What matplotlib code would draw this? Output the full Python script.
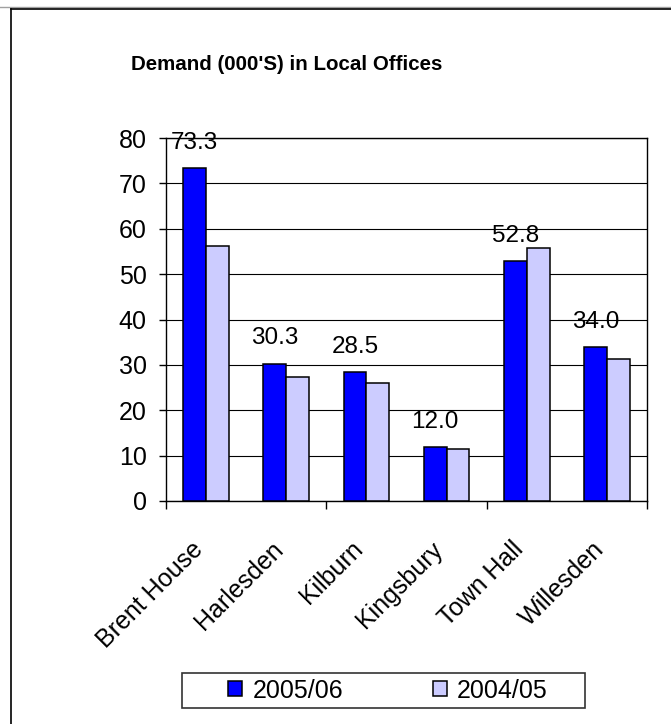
import matplotlib
matplotlib.use("Agg")
import matplotlib.pyplot as plt
import matplotlib.transforms as mtransforms
from matplotlib.patches import Rectangle
from matplotlib.lines import Line2D
import numpy as np

plt.rcParams["font.family"] = ["Liberation Sans", "DejaVu Sans"]

# Data
offices = ["Brent House", "Harlesden", "Kilburn", "Kingsbury", "Town Hall", "Willesden"]
demand_2005_06 = [73.3, 30.3, 28.5, 12.0, 52.8, 34.0]
demand_2004_05 = [56.2, 27.4, 26.1, 11.5, 55.8, 31.4]
series_labels = ["2005/06", "2004/05"]
y_ticks = [0, 10, 20, 30, 40, 50, 60, 70, 80]
title = "Demand (000'S) in Local Offices"

W, H = 671, 724
fig = plt.figure(figsize=(W / 100, H / 100), dpi=100)


def fx(px):
    return px / W


def fy(py):
    return 1 - py / H


ax = fig.add_axes([fx(166), fy(501), fx(647) - fx(166), fy(138) - fy(501)])

x = np.arange(len(offices))
bw = 1 / 1.75 / 2
b1 = ax.bar(x - bw / 2, demand_2005_06, width=bw, color="#0000FF",
            edgecolor="black", linewidth=1.1, zorder=3, label=series_labels[0])
b2 = ax.bar(x + bw / 2, demand_2004_05, width=bw, color="#CCCCFF",
            edgecolor="black", linewidth=1.1, zorder=3, label=series_labels[1])

ax.set_xlim(-0.5, len(offices) - 0.5)
ax.set_ylim(y_ticks[0], y_ticks[-1])
ax.set_yticks(y_ticks)
ax.yaxis.grid(True, color="black", linewidth=0.8)
ax.set_axisbelow(True)
for s in ax.spines.values():
    s.set_color("black")
    s.set_linewidth(1.0)
ax.tick_params(axis="y", length=5, width=1, pad=9, labelsize=18, direction="out")

# category labels at centres, tick marks every second boundary
ax.set_xticks(x)
ax.set_xticklabels(offices, rotation=45, ha="right", va="center",
                   rotation_mode="anchor", fontsize=18)
ax.tick_params(axis="x", which="major", length=0, pad=32)
ax.set_xticks(np.arange(-0.5, len(offices), 2), minor=True)
ax.tick_params(axis="x", which="minor", length=6, width=1, direction="out")
shift = mtransforms.ScaledTranslation(-7 / 100, 0, fig.dpi_scale_trans)
for lbl in ax.get_xticklabels():
    lbl.set_transform(lbl.get_transform() + shift)

# value labels above the 2005/06 bars
for xi, v in zip(x, demand_2005_06):
    ax.annotate(f"{v:.1f}", xy=(xi - bw / 2, v), xytext=(0, 13.7),
                textcoords="offset points", ha="center", va="baseline",
                fontsize=17.5, annotation_clip=False, zorder=5)

fig.text(fx(287), fy(65), title, ha="center", va="center",
         fontsize=14.8, fontweight="bold")

# legend with its own box
fig.add_artist(Rectangle((fx(182), fy(708)), fx(585) - fx(182), fy(673) - fy(708),
                         transform=fig.transFigure, fill=False,
                         edgecolor="#333333", linewidth=1.2))
fig.legend(handles=[b1, b2], labels=series_labels, ncol=2, frameon=False,
           fontsize=18, handlelength=0.56, handleheight=0.56,
           handletextpad=0.4, columnspacing=3.6, borderpad=0,
           loc="center", bbox_to_anchor=(fx(388), fy(690.5)))

# chart area border
fig.add_artist(Line2D([0, 1], [fy(7), fy(7)], transform=fig.transFigure,
                      color="#a0a0a0", linewidth=1.0))
fig.add_artist(Line2D([fx(11), 1], [fy(9), fy(9)], transform=fig.transFigure,
                      color="black", linewidth=1.2))
fig.add_artist(Line2D([fx(11), fx(11)], [fy(9), 0], transform=fig.transFigure,
                      color="black", linewidth=1.2))

fig.savefig("out.png", dpi=100)
